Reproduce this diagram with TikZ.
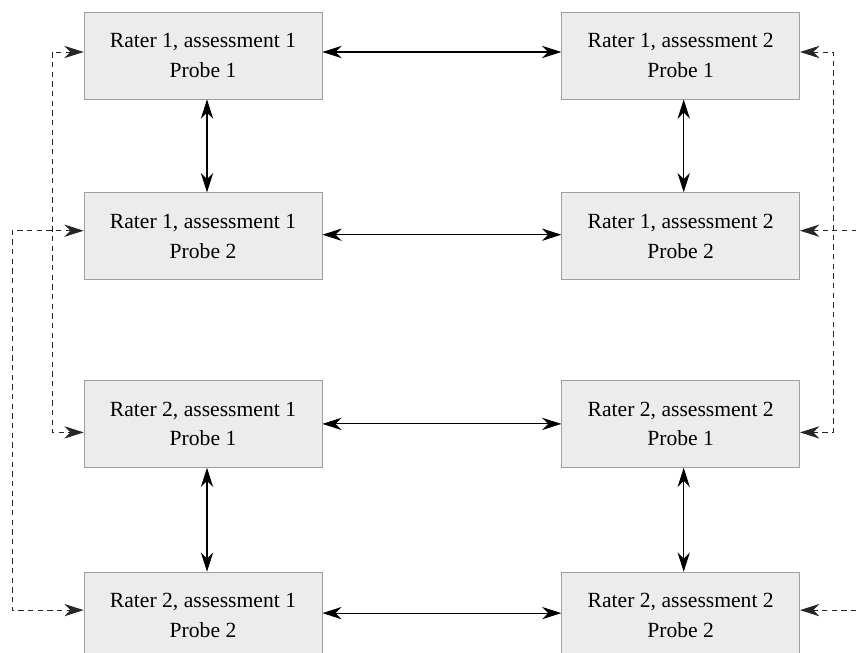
\documentclass[tikz,border=0pt]{standalone}
\usepackage{fontspec}
\setmainfont{Liberation Serif}
\usetikzlibrary{arrows.meta, positioning}

\begin{document}
\begin{tikzpicture}[
      font=\fontsize{12.3}{17}\selectfont,
      box/.style={draw=gray!75, fill=gray!15, rectangle, minimum width=4.76cm,
          minimum height=1.74cm, align=center, inner sep=0pt},
      arr/.style={<->, >={Stealth[length=11pt, width=7pt, inset=3.5pt]}, semithick},
      darr/.style={<->, >={Stealth[length=11pt, width=7pt, inset=3.5pt]}, line width=0.5pt,
          dash pattern=on 3pt off 2.5pt, black!85},
    ]
    \clip (0,0) rectangle (17.12,13.04);

    \node[box] (r1a1p1) at (4.06,11.93) {Rater 1, assessment 1\\Probe 1};
    \node[box, right=4.78cm of r1a1p1] (r1a2p1) {Rater 1, assessment 2\\Probe 1};
    \node[box, below=1.86cm of r1a1p1] (r1a1p2) {Rater 1, assessment 1\\Probe 2};
    \node[box, right=4.78cm of r1a1p2] (r1a2p2) {Rater 1, assessment 2\\Probe 2};
    \node[box, below=2.0cm of r1a1p2] (r2a1p1) {Rater 2, assessment 1\\Probe 1};
    \node[box, right=4.78cm of r2a1p1] (r2a2p1) {Rater 2, assessment 2\\Probe 1};
    \node[box, below=2.08cm of r2a1p1] (r2a1p2) {Rater 2, assessment 1\\Probe 2};
    \node[box, right=4.78cm of r2a1p2] (r2a2p2) {Rater 2, assessment 2\\Probe 2};

    \coordinate (leftin) at (1.04,6);
    \coordinate (leftout) at (0.24,6);
    \coordinate (rightin) at (16.66,6);
    \coordinate (rightout) at (17.44,6);

    % across assessments
    \draw[arr] ([yshift=0.07cm]r1a1p1.east) -- ([yshift=0.07cm]r1a2p1.west);
    \draw[arr] ([yshift=0.03cm]r1a1p2.east) -- ([yshift=0.03cm]r1a2p2.west);
    \draw[arr] (r2a1p1.east) -- (r2a2p1.west);
    \draw[arr] ([yshift=0.05cm]r2a1p2.east) -- ([yshift=0.05cm]r2a2p2.west);

    % across probes
    \draw[arr] ([xshift=0.08cm]r1a1p1.south) -- ([xshift=0.08cm]r1a1p2.north);
    \draw[arr] ([xshift=0.06cm]r1a2p1.south) -- ([xshift=0.06cm]r1a2p2.north);
    \draw[arr] ([xshift=0.08cm]r2a1p1.south) -- ([xshift=0.08cm]r2a1p2.north);
    \draw[arr] ([xshift=0.06cm]r2a2p1.south) -- ([xshift=0.06cm]r2a2p2.north);

    % across raters
    \draw[darr] ([yshift=0.07cm]r1a1p1.west) -| (leftin) |- ([yshift=-0.17cm]r2a1p1.west);
    \draw[darr] ([yshift=0.11cm]r1a1p2.west) -| (leftout) |- ([yshift=0.11cm]r2a1p2.west);
    \draw[darr] ([yshift=0.07cm]r1a2p1.east) -| (rightin) |- ([yshift=-0.17cm]r2a2p1.east);
    \draw[darr] ([yshift=0.11cm]r1a2p2.east) -| (rightout) |- ([yshift=0.11cm]r2a2p2.east);

  \end{tikzpicture}
\end{document}
